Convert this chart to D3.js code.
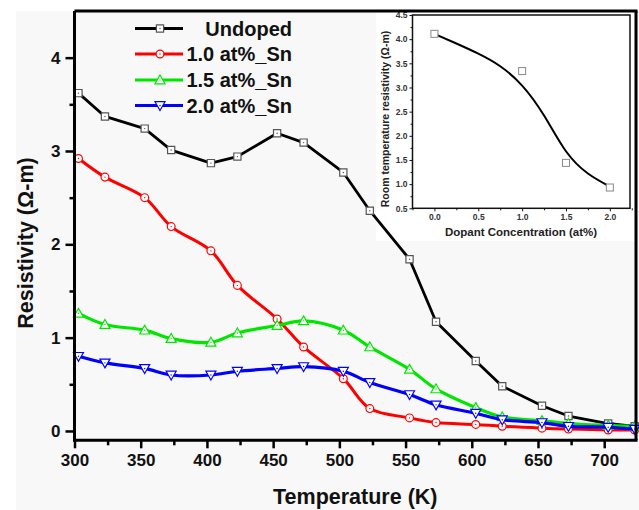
<!DOCTYPE html>
<html>
<head>
<meta charset="utf-8">
<script src="https://cdn.jsdelivr.net/npm/d3@7"></script>
<style>
  body { margin: 0; background: #fff; }
  text { font-family: "Liberation Sans", Arial, sans-serif; font-weight: bold; }
</style>
</head>
<body>
<div id="chart"></div>
<script>
// temperatures (K) and resistivity (ohm-m)
var temps = [303, 323, 353, 373, 403, 423, 453, 473, 503, 523, 553, 573, 603, 623, 653, 673, 703, 723];
var undoped = [3.62, 3.37, 3.24, 3.01, 2.87, 2.94, 3.19, 3.09, 2.77, 2.36, 1.84, 1.17, 0.75, 0.48, 0.27, 0.16, 0.08, 0.05];
var sn10 = [2.92, 2.72, 2.50, 2.19, 1.93, 1.56, 1.20, 0.90, 0.56, 0.24, 0.14, 0.09, 0.07, 0.05, 0.03, 0.02, 0.01, 0.01];
var sn15 = [1.26, 1.14, 1.08, 0.99, 0.95, 1.05, 1.13, 1.18, 1.08, 0.90, 0.66, 0.45, 0.25, 0.15, 0.11, 0.08, 0.06, 0.05];
var sn20 = [0.80, 0.73, 0.67, 0.60, 0.60, 0.64, 0.67, 0.69, 0.64, 0.52, 0.39, 0.28, 0.19, 0.12, 0.09, 0.05, 0.04, 0.02];
var seriesNames = ["Undoped", "1.0 at%_Sn", "1.5 at%_Sn", "2.0 at%_Sn"];

// inset: room temperature resistivity vs dopant
var dopant = [0, 1.0, 1.5, 2.0];
var roomRes = [4.11, 3.34, 1.44, 0.93];
// fitted curve as drawn in the inset
var fitX = [0, 0.25, 0.5, 0.75, 1.0, 1.25, 1.5, 1.75, 2.0];
var fitY = [4.11, 3.91, 3.70, 3.44, 3.04, 2.42, 1.68, 1.22, 0.95];

var xTicks = [300, 350, 400, 450, 500, 550, 600, 650, 700];
var yTicks = [0, 1, 2, 3, 4];

var W = 639, H = 510;
var svg = d3.select("#chart").append("svg")
    .attr("width", W)
    .attr("height", H);

svg.append("rect").attr("x", 16).attr("y", 11).attr("width", W - 16).attr("height", H - 11)
    .attr("fill", "#f8f8f8");

var pLeft = 74.5, pRight = 636, pTop = 11, pBottom = 440.3;

var x = d3.scaleLinear().domain([300, 724]).range([pLeft, pRight]);
var y = d3.scaleLinear().domain([-0.1, 4.5]).range([pBottom, pTop]);

// axes
var xAxis = svg.append("g")
    .attr("transform", "translate(0," + pBottom + ")")
    .call(d3.axisBottom(x).tickValues(xTicks).tickSize(8).tickPadding(6).tickFormat(d3.format("d")));
xAxis.select(".domain").remove();
xAxis.selectAll("line").attr("stroke", "#000").attr("stroke-width", 2.5);
xAxis.selectAll("text").style("font-size", "17px").attr("fill", "#111");

svg.append("g")
    .attr("transform", "translate(0," + pBottom + ")")
    .call(d3.axisBottom(x).tickValues(d3.range(325, 724, 50)).tickSize(5).tickFormat(""))
    .call(function (g) { g.select(".domain").remove(); })
    .selectAll("line").attr("stroke", "#000").attr("stroke-width", 2.5);

var yAxis = svg.append("g")
    .attr("transform", "translate(" + pLeft + ",0)")
    .call(d3.axisLeft(y).tickValues(yTicks).tickSize(9).tickPadding(5).tickFormat(d3.format("d")));
yAxis.select(".domain").remove();
yAxis.selectAll("line").attr("stroke", "#000").attr("stroke-width", 2.5);
yAxis.selectAll("text").style("font-size", "17px").attr("fill", "#111");

svg.append("g")
    .attr("transform", "translate(" + pLeft + ",0)")
    .call(d3.axisLeft(y).tickValues([0.5, 1.5, 2.5, 3.5]).tickSize(5).tickFormat(""))
    .call(function (g) { g.select(".domain").remove(); })
    .selectAll("line").attr("stroke", "#000").attr("stroke-width", 2.5);

// axis titles
svg.append("text")
    .attr("x", (pLeft + pRight) / 2)
    .attr("y", 504)
    .attr("text-anchor", "middle")
    .style("font-size", "21.5px")
    .attr("fill", "#111")
    .text("Temperature (K)");

svg.append("text")
    .attr("transform", "translate(33,243) rotate(-90)")
    .attr("text-anchor", "middle")
    .style("font-size", "21.5px")
    .attr("fill", "#111")
    .text("Resistivity (Ω-m)");

// inset
var ix = d3.scaleLinear().domain([-0.25, 2.23]).range([412.5, 630]);
var iy = d3.scaleLinear().domain([0.5, 4.5]).range([208.3, 15]);

svg.append("defs").append("clipPath").attr("id", "topclip")
    .append("rect").attr("x", 0).attr("y", 12).attr("width", W).attr("height", H);

var inset = svg.append("g").attr("clip-path", "url(#topclip)");

inset.append("rect").attr("x", 376).attr("y", 11).attr("width", 258).attr("height", 230)
    .attr("fill", "#fff");
inset.append("rect").attr("x", 412.5).attr("y", 15).attr("width", 630 - 412.5).attr("height", 208.3 - 15)
    .attr("fill", "none").attr("stroke", "#111").attr("stroke-width", 1.5);

var ixAxis = inset.append("g")
    .attr("transform", "translate(0,208.3)")
    .call(d3.axisBottom(ix).tickValues([0, 0.5, 1.0, 1.5, 2.0]).tickSize(3).tickPadding(3).tickFormat(d3.format(".1f")));
ixAxis.select(".domain").remove();
ixAxis.selectAll("line").attr("stroke", "#111").attr("stroke-width", 1);
ixAxis.selectAll("text").style("font-size", "8.5px").attr("fill", "#333");
inset.append("g")
    .attr("transform", "translate(0,208.3)")
    .call(d3.axisBottom(ix).tickValues([-0.25, 0.25, 0.75, 1.25, 1.75, 2.25]).tickSize(2).tickFormat(""))
    .call(function (g) { g.select(".domain").remove(); })
    .selectAll("line").attr("stroke", "#111");

var iyAxis = inset.append("g")
    .attr("transform", "translate(412.5,0)")
    .call(d3.axisLeft(iy).tickValues(d3.range(0.5, 4.51, 0.5)).tickSize(3).tickPadding(2).tickFormat(d3.format(".1f")));
iyAxis.select(".domain").remove();
iyAxis.selectAll("line").attr("stroke", "#111").attr("stroke-width", 1);
iyAxis.selectAll("text").style("font-size", "8.5px").attr("fill", "#333");
inset.append("g")
    .attr("transform", "translate(412.5,0)")
    .call(d3.axisLeft(iy).tickValues(d3.range(0.75, 4.5, 0.5)).tickSize(2).tickFormat(""))
    .call(function (g) { g.select(".domain").remove(); })
    .selectAll("line").attr("stroke", "#111");

inset.append("text")
    .attr("x", 521)
    .attr("y", 235.5)
    .attr("text-anchor", "middle")
    .style("font-size", "11.5px")
    .attr("fill", "#222")
    .text("Dopant Concentration (at%)");
inset.append("text")
    .attr("transform", "translate(389,119) rotate(-90)")
    .attr("text-anchor", "middle")
    .style("font-size", "10.5px")
    .attr("fill", "#222")
    .text("Room temperature resistivity (Ω-m)");

var fitData = fitX.map(function (d, i) { return [d, fitY[i]]; });
inset.append("path")
    .datum(fitData)
    .attr("fill", "none")
    .attr("stroke", "#000")
    .attr("stroke-width", 2)
    .attr("d", d3.line().x(function (d) { return ix(d[0]); }).y(function (d) { return iy(d[1]); })
        .curve(d3.curveNatural));

inset.selectAll(".ipt")
    .data(dopant)
    .enter()
    .append("rect")
    .attr("x", function (d) { return ix(d) - 3.5; })
    .attr("y", function (d, i) { return iy(roomRes[i]) - 3.5; })
    .attr("width", 7)
    .attr("height", 7)
    .attr("fill", "#fff")
    .attr("stroke", "#888")
    .attr("stroke-width", 1);

// series
var series = [
    { name: seriesNames[0], values: undoped, color: "#000", mark: "square", width: 2.8, curve: d3.curveLinear },
    { name: seriesNames[1], values: sn10, color: "#ff0000", mark: "circle", width: 3, curve: d3.curveCatmullRom.alpha(0.5) },
    { name: seriesNames[2], values: sn15, color: "#00e600", mark: "up", width: 3.2, curve: d3.curveCatmullRom.alpha(0.5) },
    { name: seriesNames[3], values: sn20, color: "#0000ff", mark: "down", width: 3.2, curve: d3.curveCatmullRom.alpha(0.5) }
];

function markerPath(type) {
    if (type === "square") return d3.symbol(d3.symbolSquare, 52)();
    if (type === "circle") return d3.symbol(d3.symbolCircle, 48)();
    if (type === "up") return "M0,-5L5,3.8L-5,3.8Z";
    return "M0,5L5,-3.8L-5,-3.8Z";
}
function markerStroke(s) { return s.mark === "square" ? "#555" : s.color; }

series.forEach(function (s) {
    var pts = temps.map(function (t, i) { return [t, s.values[i]]; });
    svg.append("path")
        .datum(pts)
        .attr("fill", "none")
        .attr("stroke", s.color)
        .attr("stroke-width", s.width)
        .attr("stroke-linejoin", "round")
        .attr("d", d3.line().x(function (d) { return x(d[0]); }).y(function (d) { return y(d[1]); }).curve(s.curve));
    var g = svg.append("g");
    var m = g.selectAll("g")
        .data(pts)
        .enter()
        .append("g")
        .attr("transform", function (d) { return "translate(" + x(d[0]) + "," + y(d[1]) + ")"; });
    m.append("path")
        .attr("d", markerPath(s.mark))
        .attr("fill", "#fff")
        .attr("stroke", markerStroke(s))
        .attr("stroke-width", 1.2);
    m.append("circle").attr("r", 0.7).attr("fill", markerStroke(s));
});

// frame (top and right) and main axis lines
svg.append("line").attr("x1", pLeft).attr("x2", pRight + 1.5).attr("y1", pTop).attr("y2", pTop)
    .attr("stroke", "#000").attr("stroke-width", 3);
svg.append("line").attr("x1", pRight).attr("x2", pRight).attr("y1", pTop).attr("y2", pBottom)
    .attr("stroke", "#000").attr("stroke-width", 3);
svg.append("line").attr("x1", pLeft).attr("x2", pLeft).attr("y1", pTop).attr("y2", pBottom + 1.2)
    .attr("stroke", "#000").attr("stroke-width", 3);
svg.append("line").attr("x1", pLeft - 1.5).attr("x2", pRight + 1.5).attr("y1", pBottom).attr("y2", pBottom)
    .attr("stroke", "#000").attr("stroke-width", 3);

// legend
var legendRows = [28.5, 54, 80, 105.5];
series.forEach(function (s, i) {
    var ly = legendRows[i];
    svg.append("line")
        .attr("x1", 135).attr("x2", 183).attr("y1", ly).attr("y2", ly)
        .attr("stroke", s.color).attr("stroke-width", s.width);
    var g = svg.append("g").attr("transform", "translate(160," + ly + ")");
    g.append("path").attr("d", markerPath(s.mark))
        .attr("fill", "#fff").attr("stroke", markerStroke(s)).attr("stroke-width", 1.2);
    g.append("circle").attr("r", 0.7).attr("fill", markerStroke(s));
    svg.append("text")
        .attr("x", 292)
        .attr("y", ly + 7)
        .attr("text-anchor", "end")
        .style("font-size", "20px")
        .attr("fill", "#111")
        .text(s.name);
});
</script>
</body>
</html>
